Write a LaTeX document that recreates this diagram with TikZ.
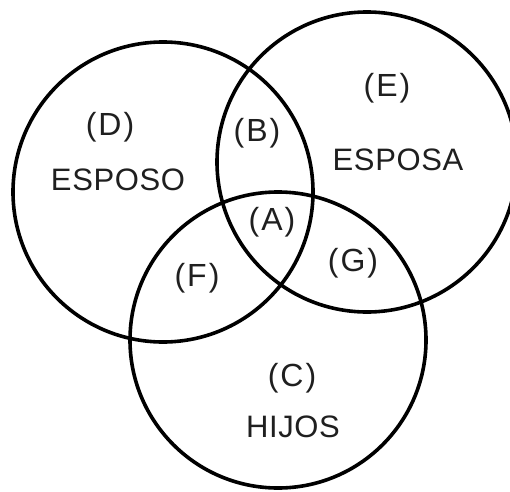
\documentclass[tikz,border=0pt]{standalone}
\usepackage{fontspec}
\setmainfont{Liberation Sans}
\newfontfamily\wordfont[LetterSpace=2]{Liberation Sans}
\newcommand{\pl}[1]{(\kern2pt#1\kern2pt)}
\begin{document}
\begin{tikzpicture}[x=1pt,y=1pt,
  ring/.style={circle,draw=black,line width=3.6pt,minimum size=#1,inner sep=0pt},
  lab/.style={inner sep=0pt,font=\fontsize{32}{32}\selectfont,text=black!88},
  word/.style={inner sep=0pt,font=\fontsize{31}{31}\selectfont\wordfont,text=black!88}]
\useasboundingbox (0,0) rectangle (510,491);
\clip (0,0) rectangle (510,491);
\node[ring=300pt] (esposo) at (163,299) {};
\node[ring=300pt] (esposa) at (367,329) {};
\node[ring=296pt] (hijos) at (278,151) {};
\node[lab] (D) at (110,364) {\pl{D}};
\node[word] (wD) at (118,311) {ESPOSO};
\node[lab] (B) at (257,358) {\pl{B}};
\node[lab] (E) at (387,403) {\pl{E}};
\node[word] (wE) at (398,331) {ESPOSA};
\node[lab] (A) at (272,269) {\pl{A}};
\node[lab] (G) at (353,228) {\pl{G}};
\node[lab] (F) at (197,213) {\pl{F}};
\node[lab] (C) at (292,113) {\pl{C}};
\node[word] (wC) at (293,64) {HIJOS};
\end{tikzpicture}
\end{document}
